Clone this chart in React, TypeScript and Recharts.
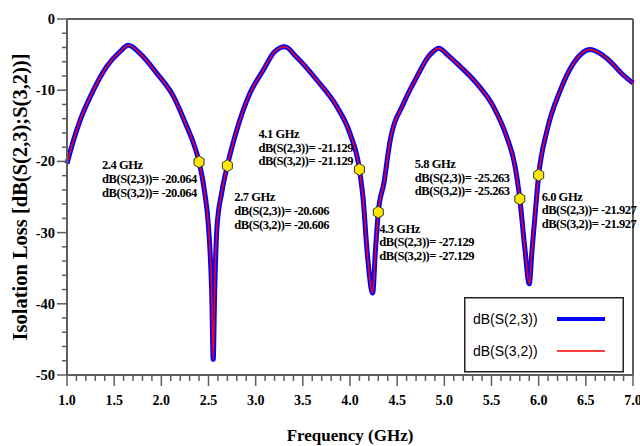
import React from "react";
import { LineChart, Line, XAxis, YAxis, ReferenceLine } from "recharts";

// frequency points (GHz) and isolation readings (dB)
const freq = [
  1.0, 1.07, 1.14, 1.28, 1.42, 1.56, 1.65, 1.77, 1.95, 2.13, 2.27, 2.34, 2.4,
  2.46, 2.5, 2.534, 2.55, 2.565, 2.59, 2.64, 2.7, 2.8, 2.94, 3.08, 3.2, 3.31,
  3.43, 3.65, 3.86, 4.0, 4.1, 4.14, 4.18, 4.24, 4.27, 4.3, 4.36, 4.42, 4.57,
  4.71, 4.83, 4.88, 4.94, 5.04, 5.13, 5.34, 5.52, 5.66, 5.75, 5.8, 5.855, 5.9,
  5.93, 5.96, 6.0, 6.09, 6.23, 6.37, 6.46, 6.545, 6.72, 6.9, 7.0,
];
const s23 = [
  -20.3, -17.0, -14.2, -10.0, -6.7, -4.6, -3.7, -4.8, -7.6, -10.9, -15.1, -17.4, -20.064,
  -24.4, -29.2, -38.5, -47.8, -38.5, -29.2, -24.4, -20.606, -15.6, -10.4, -7.2, -4.6, -3.9,
  -5.3, -8.6, -12.3, -16.1, -21.129, -25.4, -32.4, -38.5, -32.4, -27.129, -23.0, -17.5, -11.8,
  -8.1, -5.3, -4.6, -4.1, -5.1, -6.2, -9.0, -12.3, -16.5, -20.7, -25.263, -32.4, -37.2,
  -32.4, -27.8, -21.927, -15.6, -10.0, -6.2, -4.8, -4.3, -5.5, -7.9, -9.0,
];
// S(3,2) traces exactly on top of S(2,3) in the plot
const s32 = s23;

const seriesNames = ["dB(S(2,3))", "dB(S(3,2))"];
const seriesColors = ["#0000ff", "#ff0000"];
const seriesWidths = [5, 1.5];

const markerFreq = [2.4, 2.7, 4.1, 4.3, 5.8, 6.0];
const markerDb = [-20.064, -20.606, -21.129, -27.129, -25.263, -21.927];
// where each marker's text block sits relative to the marker
const markerDx = [-97, 7, -101, 1, -105, 3];
const markerDy = [3, 31, -36, 16, -35.5, 21];

const xTicks = Array.from({ length: 61 }, (_, i) => Math.round((1 + i * 0.1) * 10) / 10);
const yTicks = Array.from({ length: 26 }, (_, i) => -50 + i * 2);
const yLabels = [0, -10, -20, -30, -40, -50];

const data = freq.map((f, i) => ({ f, s23: s23[i], s32: s32[i] }));

const AXIS = "#5e5e5e";
const SERIF = "'Liberation Serif', 'Times New Roman', serif";
const SANS = "'Liberation Sans', Arial, sans-serif";

function XTick({ x, y, payload }: any) {
  const v = payload.value as number;
  const major = Math.round(v * 10) % 5 === 0;
  return (
    <g>
      <line x1={x} y1={y} x2={x} y2={y + (major ? 11 : 6)} stroke={AXIS} strokeWidth={1.5} />
      {major && (
        <text x={x} y={y + 30} textAnchor="middle" fontFamily={SERIF} fontWeight="bold" fontSize={14} fill="#000">
          {v.toFixed(1)}
        </text>
      )}
    </g>
  );
}

function YTick({ x, y, payload }: any) {
  const v = payload.value as number;
  const major = yLabels.includes(v);
  return (
    <g>
      <line x1={x} y1={y} x2={x - (major ? 10 : 5)} y2={y} stroke={AXIS} strokeWidth={1.5} />
      {major && (
        <text x={x - 12} y={y + 5} textAnchor="end" fontFamily={SERIF} fontWeight="bold" fontSize={14.5} fill="#000">
          {v}
        </text>
      )}
    </g>
  );
}

// hexagon marker + readout, drawn as dots of the S(2,3) trace so S(3,2) runs over them
function MarkerDot(props: any) {
  const { cx, cy, payload, index } = props;
  const i = markerFreq.indexOf(payload.f);
  if (i < 0) return <g key={index} />;
  const pts = [
    [cx, cy - 6], [cx + 5, cy - 3], [cx + 5, cy + 3],
    [cx, cy + 6], [cx - 5, cy + 3], [cx - 5, cy - 3],
  ].map((p) => p.join(",")).join(" ");
  const tx = cx + markerDx[i];
  const ty = cy + markerDy[i] + 4.5;
  const v = markerDb[i].toFixed(3);
  return (
    <g key={index}>
      <polygon points={pts} fill="#ffe800" stroke="#333" strokeWidth={1} />
      <text fontFamily={SERIF} fontWeight="bold" fontSize={12.5} letterSpacing={-0.45} fill="#000">
        <tspan x={tx} y={ty}>{markerFreq[i].toFixed(1)} GHz</tspan>
        <tspan x={tx} y={ty + 13.7}>{`${seriesNames[0]}= ${v}`}</tspan>
        <tspan x={tx} y={ty + 27.4}>{`${seriesNames[1]}= ${v}`}</tspan>
      </text>
    </g>
  );
}

function Legend() {
  return (
    <svg width={160} height={76} style={{ position: "absolute", left: 464, top: 297 }}>
      <rect x={0.75} y={0.75} width={158.5} height={74} fill="#fff" stroke="#222" strokeWidth={1.5} />
      {seriesNames.map((n, i) => {
        const cy = 22 + i * 32;
        return (
          <g key={n}>
            <text x={9} y={cy + 5} fontFamily={SANS} fontSize={14} fill="#000">{n}</text>
            <line x1={93} y1={cy} x2={141} y2={cy} stroke={seriesColors[i]} strokeWidth={i === 0 ? 4 : 1.5} />
          </g>
        );
      })}
    </svg>
  );
}

export default function App() {
  return (
    <div style={{ position: "absolute", left: 0, top: 0, width: 640, height: 446, background: "#fff" }}>
      <LineChart width={640} height={446} data={data} margin={{ top: 19, right: 7, left: 0, bottom: 0 }}>
        <XAxis
          dataKey="f"
          type="number"
          domain={[1, 7]}
          ticks={xTicks}
          interval={0}
          height={71}
          tickSize={0}
          tickMargin={0}
          tickLine={false}
          tick={<XTick />}
          axisLine={{ stroke: AXIS, strokeWidth: 2 }}
          label={{
            content: ({ viewBox }: any) => (
              <text x={viewBox.x + viewBox.width / 2} y={441} textAnchor="middle" fontFamily={SERIF} fontWeight="bold" fontSize={17} fill="#000">
                Frequency (GHz)
              </text>
            ),
          }}
        />
        <YAxis
          type="number"
          domain={[-50, 0]}
          ticks={yTicks}
          interval={0}
          width={67}
          tickSize={0}
          tickMargin={0}
          tickLine={false}
          tick={<YTick />}
          axisLine={{ stroke: AXIS, strokeWidth: 2 }}
          label={{
            content: ({ viewBox }: any) => {
              const cx = 20;
              const cy = viewBox.y + viewBox.height / 2;
              return (
                <text x={cx} y={cy} transform={`rotate(-90 ${cx} ${cy})`} textAnchor="middle" dominantBaseline="central" fontFamily={SERIF} fontWeight="bold" fontSize={20.5} fill="#000">
                  Isolation Loss [dB(S(2,3);S(3,2))]
                </text>
              );
            },
          }}
        />
        <ReferenceLine y={0} stroke={AXIS} strokeWidth={2} />
        <ReferenceLine x={7} stroke={AXIS} strokeWidth={2} />
        <Line
          type="monotone"
          dataKey="s23"
          name={seriesNames[0]}
          stroke={seriesColors[0]}
          strokeWidth={seriesWidths[0]}
          dot={MarkerDot}
          activeDot={false}
          isAnimationActive={false}
        />
        <Line
          type="monotone"
          dataKey="s32"
          name={seriesNames[1]}
          stroke={seriesColors[1]}
          strokeWidth={seriesWidths[1]}
          dot={false}
          activeDot={false}
          isAnimationActive={false}
        />
      </LineChart>
      <Legend />
    </div>
  );
}
